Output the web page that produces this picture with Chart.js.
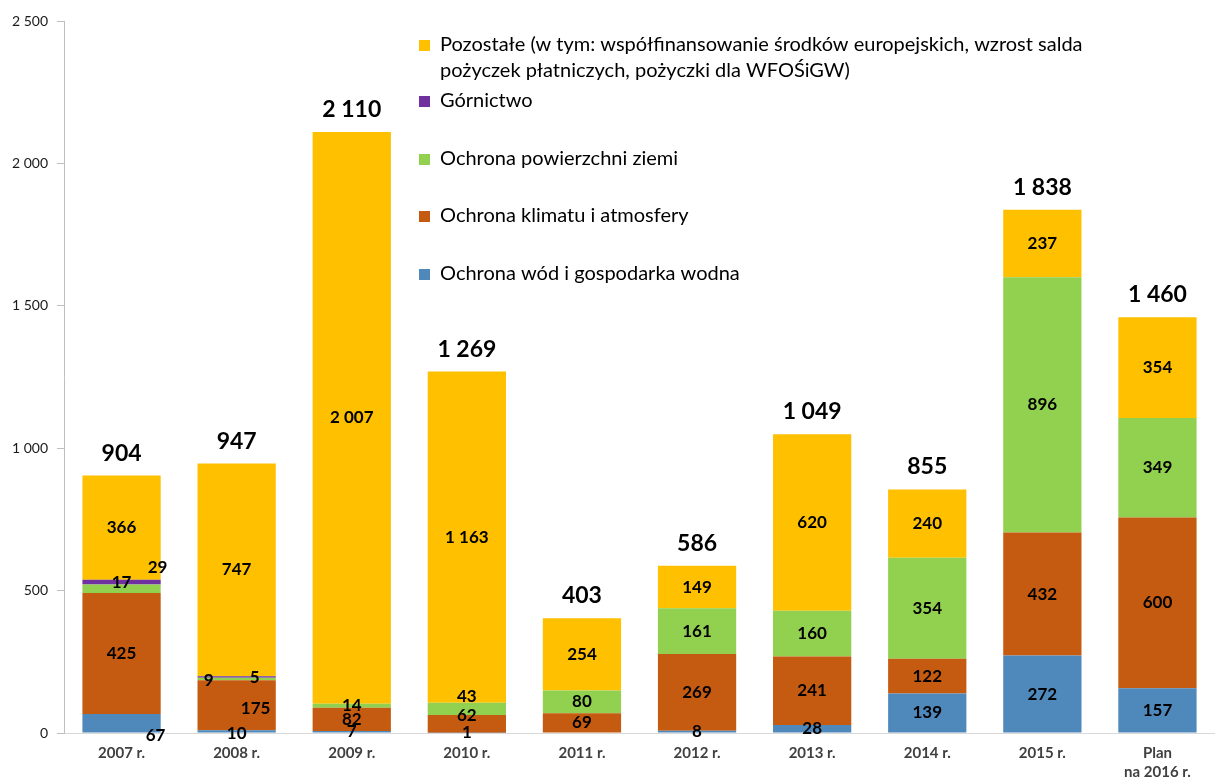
<!DOCTYPE html>
<html>
<head>
<meta charset="utf-8">
<script src="https://cdn.jsdelivr.net/npm/chart.js@4"></script>
<style>
  html, body { margin: 0; padding: 0; background: #fff; }
  #wrap { position: relative; width: 1215px; height: 781px; }
</style>
</head>
<body>
<div id="wrap"><canvas id="chart"></canvas></div>
<script>
// ====== DATA ======
const YEARS = ['2007 r.', '2008 r.', '2009 r.', '2010 r.', '2011 r.', '2012 r.', '2013 r.', '2014 r.', '2015 r.', ['Plan', 'na 2016 r.']];
const WODY      = [67, 10, 7, 1, 0, 8, 28, 139, 272, 157];
const KLIMAT    = [425, 175, 82, 62, 69, 269, 241, 122, 432, 600];
const ZIEMIA    = [29, 9, 14, 43, 80, 161, 160, 354, 896, 349];
const GORNICTWO = [17, 5, 0, 0, 0, 0, 0, 0, 0, 0];
const POZOSTALE = [366, 747, 2007, 1163, 254, 149, 620, 240, 237, 354];
const TOTALS    = [904, 947, 2110, 1269, 403, 586, 1049, 855, 1838, 1460];
const Y_TICKS   = [0, 500, 1000, 1500, 2000, 2500];

// ====== COLORS ======
const COLORS = {
    wody:      '#4F88BB',
    klimat:    '#C55A11',
    ziemia:    '#92D050',
    gornictwo: '#7030A0',
    pozostale: '#FFC000',
};

const FONT = 'Lato, "Open Sans", sans-serif';

// label nudges for small segments (datasetIndex-dataIndex: [dx, dy])
const NUDGE = {
    '0-0': [34, 12],
    '2-0': [36, -21],
    '1-1': [19, 3],
    '2-1': [-28, 1],
    '3-1': [18, 0],
    '0-1': [0, 2],
    '1-3': [0, -8],
    '2-3': [0, -12],
};

function fmt(v) {
    return String(v).replace(/\B(?=(\d{3})+(?!\d))/g, ' ');
}

// ====== PLUGINS ======
const labelsPlugin = {
    id: 'segLabels',
    afterDatasetsDraw(chart) {
        const ctx = chart.ctx;
        ctx.save();
        ctx.textAlign = 'center';
        ctx.textBaseline = 'middle';
        ctx.fillStyle = '#000';
        ctx.font = 'bold 17px ' + FONT;
        chart.data.datasets.forEach((ds, di) => {
            const meta = chart.getDatasetMeta(di);
            meta.data.forEach((bar, i) => {
                const v = ds.data[i];
                if (!v) return;
                const n = NUDGE[di + '-' + i] || [0, 0];
                ctx.fillText(fmt(v), bar.x + n[0], (bar.y + bar.base) / 2 + n[1]);
            });
        });
        // totals
        const top = chart.getDatasetMeta(chart.data.datasets.length - 1);
        ctx.font = 'bold 23px ' + FONT;
        ctx.textBaseline = 'alphabetic';
        top.data.forEach((bar, i) => {
            ctx.fillText(fmt(TOTALS[i]), bar.x, bar.y - 15);
        });
        ctx.restore();
    }
};

const legendPlugin = {
    id: 'sideLegend',
    afterDraw(chart) {
        const ctx = chart.ctx;
        const rows = [
            { ds: 4, y: 45, lines: ['Pozostałe (w tym: współfinansowanie środków europejskich, wzrost salda', 'pożyczek płatniczych, pożyczki dla WFOŚiGW)'] },
            { ds: 3, y: 101, lines: ['Górnictwo'] },
            { ds: 2, y: 159, lines: ['Ochrona powierzchni ziemi'] },
            { ds: 1, y: 216, lines: ['Ochrona klimatu i atmosfery'] },
            { ds: 0, y: 274, lines: ['Ochrona wód i gospodarka wodna'] },
        ];
        ctx.save();
        ctx.font = '20px ' + FONT;
        ctx.textBaseline = 'middle';
        ctx.textAlign = 'left';
        rows.forEach(r => {
            ctx.fillStyle = chart.data.datasets[r.ds].backgroundColor;
            ctx.fillRect(419, r.y - 5, 11, 11);
            ctx.fillStyle = '#000';
            r.lines.forEach((t, k) => ctx.fillText(t, 440, r.y + k * 26));
        });
        ctx.restore();
    }
};

// ====== CHART ======
function mkSet(label, data, color) {
    return {
        label: label,
        data: data,
        backgroundColor: color,
        borderWidth: 0,
        barPercentage: 0.68,
        categoryPercentage: 1,
    };
}

new Chart(document.getElementById('chart'), {
    type: 'bar',
    data: {
        labels: YEARS,
        datasets: [
            mkSet('Ochrona wód i gospodarka wodna', WODY, COLORS.wody),
            mkSet('Ochrona klimatu i atmosfery', KLIMAT, COLORS.klimat),
            mkSet('Ochrona powierzchni ziemi', ZIEMIA, COLORS.ziemia),
            mkSet('Górnictwo', GORNICTWO, COLORS.gornictwo),
            mkSet('Pozostałe', POZOSTALE, COLORS.pozostale),
        ]
    },
    options: {
        responsive: true,
        maintainAspectRatio: false,
        animation: false,
        layout: { padding: { top: 21, right: 0, left: 0, bottom: 0 } },
        plugins: {
            legend: { display: false },
            tooltip: { enabled: false }
        },
        scales: {
            x: {
                stacked: true,
                grid: { display: false },
                border: { color: '#d9d9d9' },
                ticks: {
                    color: '#404040',
                    font: { family: FONT, size: 15, weight: 'bold', lineHeight: 1.25 },
                    maxRotation: 0,
                    padding: 3,
                },
                afterFit: s => { s.height = 48; }
            },
            y: {
                stacked: true,
                min: 0,
                max: 2500,
                afterBuildTicks: s => { s.ticks = Y_TICKS.map(v => ({ value: v })); },
                grid: { drawOnChartArea: false, tickLength: 7, color: '#bfbfbf' },
                border: { color: '#bfbfbf' },
                ticks: {
                    color: '#1a1a1a',
                    font: { family: FONT, size: 14 },
                    padding: 9,
                    callback: v => fmt(v)
                },
                afterFit: s => { s.width = 64; }
            }
        }
    },
    plugins: [labelsPlugin, legendPlugin]
});
</script>
</body>
</html>
